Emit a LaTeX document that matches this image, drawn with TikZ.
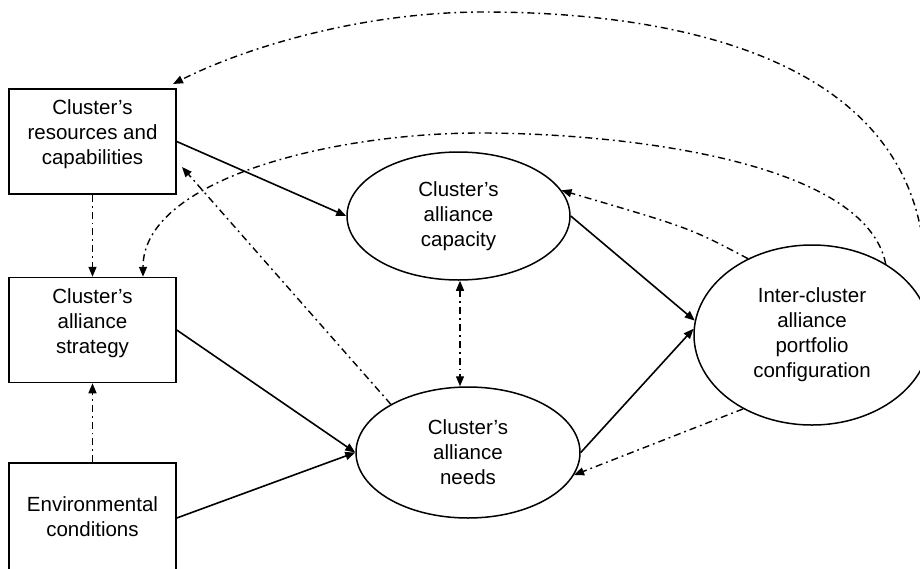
\documentclass[tikz,border=0pt]{standalone}
\usepackage{fontspec}
\setmainfont{Liberation Sans}
\usetikzlibrary{shapes.geometric,arrows.meta}
\begin{document}
\begin{tikzpicture}[x=1pt,y=-1pt,
  font=\fontsize{20.5}{25}\selectfont,
  box/.style={draw,line width=1.5pt,minimum width=167pt,minimum height=105pt,inner sep=0pt},
  oval/.style={draw,ellipse,line width=1.5pt,inner sep=0pt,align=center},
  txt/.style={align=center,inner sep=0pt},
  tip/.style={},
  solidarrow/.style={line width=1.6pt,-{Triangle[length=10pt,width=8pt]}},
  dd/.style={line width=1.4pt,dash pattern=on 7pt off 4pt on 1.8pt off 4pt},
  ddarrow/.style={dd,-{Triangle[length=10pt,width=8pt]}},
  ddboth/.style={dd,{Triangle[length=10pt,width=8pt]}-{Triangle[length=10pt,width=8pt]}}
]
\useasboundingbox (0,0) rectangle (920,568);
\clip (0,0) rectangle (920,568);
\fill[white] (0,0) rectangle (920,568);

% boxes
\node[box] (res) at (92.5,141.5) {};
\node[box] (strat) at (92.5,330) {};
\node[box,minimum height=110pt] (env) at (92.5,518) {};
\node[txt] (resT) at (92.5,134) {Cluster's\\resources and\\capabilities};
\node[txt] (stratT) at (92.5,323) {Cluster's\\alliance\\strategy};
\node[txt] (envT) at (92.5,517) {Environmental\\conditions};

% ellipses
\node[oval,minimum width=223pt,minimum height=128pt] (cap) at (458.5,216) {Cluster's\\alliance\\capacity};
\node[oval,minimum width=224pt,minimum height=131pt] (needs) at (468,452.5) {Cluster's\\alliance\\needs};
\node[oval,minimum width=236pt,minimum height=180pt] (port) at (812,335) {Inter-cluster\\alliance\\portfolio\\configuration};

% solid connectors
\draw[solidarrow] (res.east) -- (cap.west);
\draw[solidarrow] (strat.east) -- (needs.west);
\draw[solidarrow] (env.east) -- (needs.west);
\draw[solidarrow] (cap.east) -- (port.173);
\draw[solidarrow] (needs.east) -- (port.177);

% dash-dotted connectors
\draw[ddarrow] (res.south) -- (strat.north);
\draw[ddarrow] (env.north) -- (strat.south);
\draw[ddboth] ([xshift=1.5pt]cap.south) -- ([xshift=1.5pt]cap.south |- needs.north);
\coordinate (resIn) at (182,167);
\draw[ddarrow] (needs.148) -- (resIn);
\draw[ddarrow] (port.130) .. controls (690,228) .. (cap.14);
\draw[ddarrow] (port.227) -- (needs.-12);
\draw[ddarrow] (port.44) .. controls (865,160) and (620,133) .. (480,133)
  .. controls (330,133) and (143,180) .. ([xshift=50.5pt]strat.north);
\coordinate (resTop) at (173,84);
\draw[ddarrow] (port.15) .. controls (945,60) and (680,12) .. (483,12)
  .. controls (360,12) and (243,48.5) .. (resTop);
\end{tikzpicture}
\end{document}
